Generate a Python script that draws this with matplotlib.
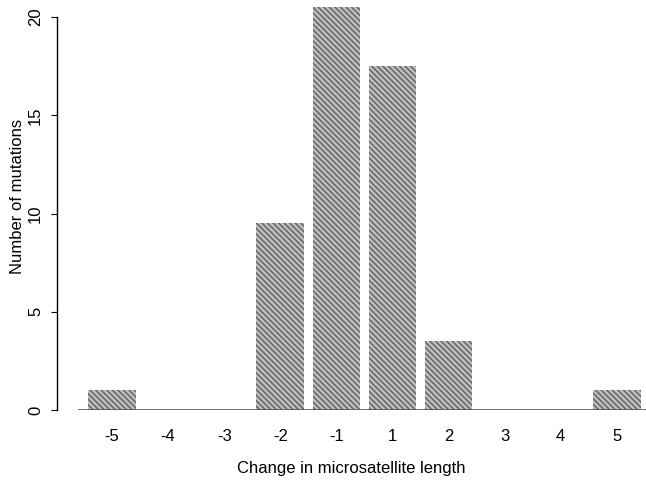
import matplotlib
matplotlib.use('Agg')
import matplotlib.pyplot as plt

plt.rcParams['font.family'] = ['Liberation Sans', 'DejaVu Sans']
plt.rcParams['hatch.linewidth'] = 0.9

# data
changes = ['-5', '-4', '-3', '-2', '-1', '1', '2', '3', '4', '5']
mutations = [1, 0, 0, 9.5, 20.5, 17.5, 3.5, 0, 0, 1]
yticks = [0, 5, 10, 15, 20]

fig = plt.figure(figsize=(6.46, 4.84), dpi=100)
ax = fig.add_axes([57/646, 1 - 410/484, 1 - 57/646, 410/484])

x = list(range(len(changes)))
ax.bar(x, mutations, width=0.85, color='#bcbcbc', edgecolor='#585858',
       hatch='\\\\\\\\\\\\', linewidth=0)

ax.set_xlim(-0.98, 9.52)
ax.set_ylim(0, 20.87)
ax.axhline(0, xmin=0.037, xmax=1, color='#555555', lw=1.2)

for s in ['top', 'right', 'bottom']:
    ax.spines[s].set_visible(False)
ax.spines['left'].set_bounds(0, 20)
ax.spines['left'].set_linewidth(1.0)

ax.set_xticks(x)
ax.set_xticklabels(changes, fontsize=12)
ax.tick_params(axis='x', length=0, pad=14)
ax.set_yticks(yticks)
ax.set_yticklabels([str(v) for v in yticks], fontsize=12, rotation=90, va='center')
ax.tick_params(axis='y', length=4, pad=6)

ax.set_xlabel('Change in microsatellite length', fontsize=12, labelpad=12)
ax.set_ylabel('Number of mutations', fontsize=12)
ax.yaxis.set_label_coords(-0.054, 0.52)

fig.savefig('out.png', dpi=100)
